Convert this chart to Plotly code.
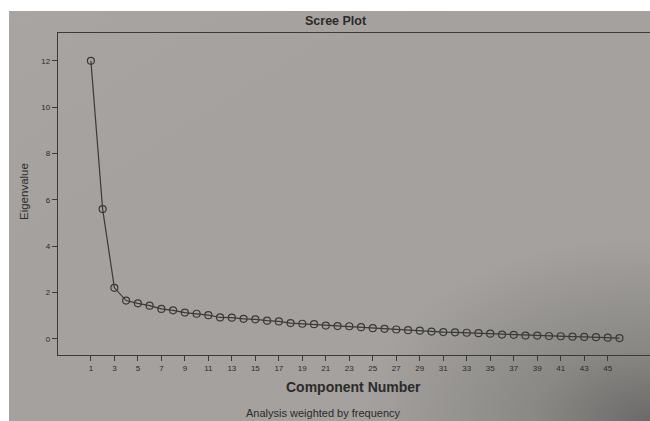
import base64
import plotly.graph_objects as go

# Scree plot data: eigenvalue per extracted component
components = list(range(1, 47))
eigenvalues = [
    12.0, 5.6, 2.2, 1.65, 1.53, 1.43, 1.29, 1.23, 1.13, 1.08,
    1.02, 0.92, 0.91, 0.86, 0.84, 0.78, 0.75, 0.68, 0.65, 0.63,
    0.57, 0.55, 0.54, 0.50, 0.46, 0.43, 0.40, 0.37, 0.35, 0.31,
    0.29, 0.28, 0.26, 0.24, 0.22, 0.18, 0.17, 0.14, 0.14, 0.12,
    0.11, 0.09, 0.08, 0.07, 0.05, 0.03,
]
x_ticks = list(range(1, 46, 2))
y_ticks = [0, 2, 4, 6, 8, 10, 12]

W, H = 650, 421
ML, MR, MT, MB = 58, 0, 33, 66
PW, PH = W - ML - MR, H - MT - MB

INK = "#3a3a3a"
TXT = "#2b2b2b"


def px_x(p):
    return (p - ML) / PW


def px_y(p):
    return (H - MB - p) / PH


# Paper tone: even grey that darkens towards the lower-right corner
svg = (
    '<svg xmlns="http://www.w3.org/2000/svg" width="641" height="410" '
    'preserveAspectRatio="none" viewBox="0 0 641 410">'
    '<defs><radialGradient id="g" cx="1" cy="1" r="0.45">'
    '<stop offset="0" stop-color="#6c6a68"/>'
    '<stop offset="0.4" stop-color="#8a8885"/>'
    '<stop offset="1" stop-color="#a4a19e"/>'
    '</radialGradient>'
    '<linearGradient id="l" x1="0" y1="0" x2="1" y2="1">'
    '<stop offset="0" stop-color="#aaa7a4" stop-opacity="0.6"/>'
    '<stop offset="0.5" stop-color="#a3a09d" stop-opacity="0"/>'
    '</linearGradient></defs>'
    '<rect width="641" height="410" fill="url(#g)"/>'
    '<rect width="641" height="410" fill="url(#l)"/>'
    '</svg>'
)
paper_src = "data:image/svg+xml;base64," + base64.b64encode(svg.encode()).decode()

fig = go.Figure()
fig.add_trace(go.Scatter(
    x=components, y=eigenvalues, mode="lines+markers",
    line=dict(color=INK, width=1.2),
    marker=dict(symbol="circle-open", size=7, color=INK, line=dict(width=1.2)),
    hoverinfo="x+y", showlegend=False,
))

axis_common = dict(
    showgrid=False, zeroline=False, showline=True, linecolor=INK, linewidth=1.3,
    ticks="outside", ticklen=5, tickcolor=INK, tickwidth=1,
    tickfont=dict(family="Liberation Sans, Arial", size=8, color=TXT),
)

fig.update_xaxes(range=[-1.8, 48.6], tickvals=x_ticks, mirror=True,
                 ticktext=[str(v) for v in x_ticks], **axis_common)
fig.update_yaxes(range=[-0.7, 13.2], tickvals=y_ticks, mirror=False,
                 ticktext=[str(v) for v in y_ticks], **axis_common)

annotations = [
    dict(text="<b>Scree Plot</b>", x=px_x(336), y=px_y(21),
         font=dict(size=12.5, color=TXT)),
    dict(text="<b>Component Number</b>", x=px_x(353), y=px_y(387),
         font=dict(size=14, color=TXT)),
    dict(text="Analysis weighted by frequency", x=px_x(323), y=px_y(413),
         font=dict(size=11, color=TXT)),
    dict(text="Eigenvalue", x=px_x(24), y=px_y(192), textangle=-90,
         font=dict(size=11.5, color=TXT)),
]
for a in annotations:
    a.update(xref="paper", yref="paper", showarrow=False,
             xanchor="center", yanchor="middle")
    a["font"]["family"] = "Liberation Sans, Arial"

fig.update_layout(
    width=W, height=H,
    margin=dict(l=ML, r=MR, t=MT, b=MB, pad=0),
    paper_bgcolor="white", plot_bgcolor="rgba(0,0,0,0)",
    annotations=annotations,
    images=[dict(source=paper_src, xref="paper", yref="paper",
                 x=px_x(9), y=px_y(11), sizex=641 / PW, sizey=410 / PH,
                 xanchor="left", yanchor="top", sizing="stretch",
                 layer="below")],
)

fig.write_html("out.html")
